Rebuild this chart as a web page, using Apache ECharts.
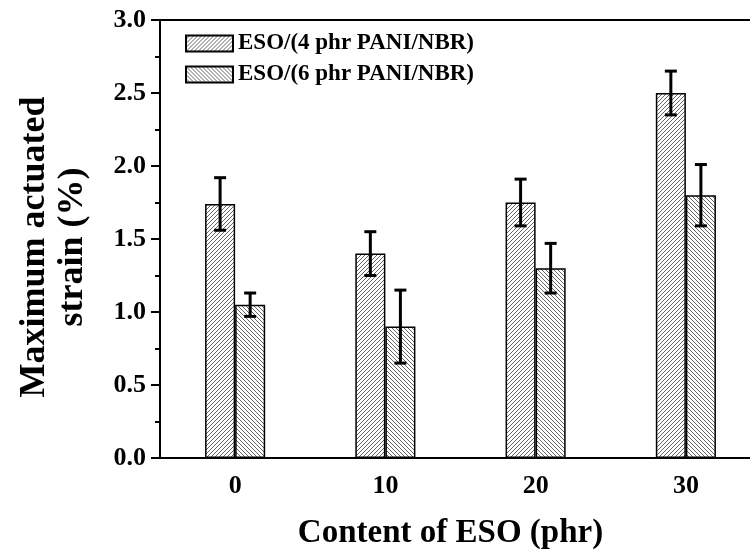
<!DOCTYPE html>
<html>
<head>
<meta charset="utf-8">
<script src="https://cdn.jsdelivr.net/npm/echarts@6/dist/echarts.min.js"></script>
<style>
  html, body { margin: 0; padding: 0; background: #fff; }
  #chart { width: 750px; height: 558px; }
</style>
</head>
<body>
<div id="chart"></div>
<script>
// ESO content (phr)
const categories = ["0", "10", "20", "30"];
const seriesNames = ["ESO/(4 phr PANI/NBR)", "ESO/(6 phr PANI/NBR)"];
// maximum actuated strain (%)
const strain4 = [1.74, 1.40, 1.75, 2.50];
const strain6 = [1.05, 0.90, 1.30, 1.80];
// error bar half widths
const err4 = [0.18, 0.15, 0.16, 0.15];
const err6 = [0.08, 0.25, 0.17, 0.21];
const yTicks = [0, 0.5, 1.0, 1.5, 2.0, 2.5, 3.0];

const FONT = "Liberation Serif";

// hatch pattern, dir 1 = "///", dir -1 = "\\\"
function hatch(dir) {
  const s = 4;
  const c = document.createElement("canvas");
  c.width = s; c.height = s;
  const ctx = c.getContext("2d");
  ctx.fillStyle = "#fff";
  ctx.fillRect(0, 0, s, s);
  ctx.strokeStyle = "#555";
  ctx.lineWidth = 0.9;
  ctx.beginPath();
  if (dir > 0) {
    ctx.moveTo(-1, s + 1); ctx.lineTo(s + 1, -1);
    ctx.moveTo(-1, 1); ctx.lineTo(1, -1);
    ctx.moveTo(s - 1, s + 1); ctx.lineTo(s + 1, s - 1);
  } else {
    ctx.moveTo(-1, -1); ctx.lineTo(s + 1, s + 1);
    ctx.moveTo(s - 1, -1); ctx.lineTo(s + 1, 1);
    ctx.moveTo(-1, s - 1); ctx.lineTo(1, s + 1);
  }
  ctx.stroke();
  return { image: c, repeat: "repeat" };
}

function errData(vals, errs) {
  return vals.map((v, i) => [i, v - errs[i], v + errs[i]]);
}

function errorBar(side) {
  return function (params, api) {
    const band = api.size([1, 0])[0];
    const x = api.coord([api.value(0), 0])[0] + side * band * 0.1;
    const lo = api.coord([api.value(0), api.value(1)])[1];
    const hi = api.coord([api.value(0), api.value(2)])[1];
    const cap = 6;
    const style = { stroke: "#000", lineWidth: 3 };
    return {
      type: "group",
      children: [
        { type: "line", shape: { x1: x, y1: hi, x2: x, y2: lo }, style: style },
        { type: "line", shape: { x1: x - cap, y1: hi, x2: x + cap, y2: hi }, style: style },
        { type: "line", shape: { x1: x - cap, y1: lo, x2: x + cap, y2: lo }, style: style }
      ]
    };
  };
}

const chart = echarts.init(document.getElementById("chart"));
const option = {
  backgroundColor: "#fff",
  animation: false,
  grid: {
    left: 160, top: 20, width: 601, height: 438,
    containLabel: false,
    outerBoundsMode: "none",
    show: true, borderColor: "#000", borderWidth: 2
  },
  legend: {
    data: seriesNames,
    orient: "vertical",
    left: 185, top: 32,
    padding: 0,
    icon: "rect",
    itemWidth: 47, itemHeight: 16, itemGap: 8,
    textStyle: { fontFamily: FONT, fontWeight: "bold", fontSize: 23, color: "#000" }
  },
  xAxis: [
    {
      type: "category",
      data: categories,
      position: "bottom",
      name: "Content of ESO (phr)",
      nameLocation: "middle",
      nameGap: 59,
      nameTextStyle: {
        fontFamily: FONT, fontWeight: "bold", fontSize: 33, color: "#000",
        padding: [0, 20, 0, 0]
      },
      axisLine: { lineStyle: { color: "#000", width: 2 } },
      axisTick: { alignWithLabel: true, length: 9, lineStyle: { color: "#000", width: 2 } },
      axisLabel: { fontFamily: FONT, fontWeight: "bold", fontSize: 26, color: "#000", margin: 15 },
      splitLine: { show: false }
    },
    {
      type: "category",
      data: categories,
      position: "bottom",
      axisLine: { show: false },
      axisTick: { length: 5, lineStyle: { color: "#000", width: 2 } },
      axisLabel: { show: false },
      splitLine: { show: false }
    }
  ],
  yAxis: {
    type: "value",
    min: yTicks[0], max: yTicks[yTicks.length - 1], interval: 0.5,
    name: "Maximum actuated\nstrain (%)",
    nameLocation: "middle",
    nameGap: 68,
    nameTextStyle: {
      fontFamily: FONT, fontWeight: "bold", fontSize: 36, color: "#000", lineHeight: 38,
      padding: [0, 16, 0, 0]
    },
    axisLine: { show: true, lineStyle: { color: "#000", width: 2 } },
    axisTick: { show: true, length: 9, lineStyle: { color: "#000", width: 2 } },
    minorTick: { show: true, splitNumber: 2, length: 5, lineStyle: { color: "#000", width: 2 } },
    axisLabel: {
      fontFamily: FONT, fontWeight: "bold", fontSize: 26, color: "#000", margin: 14,
      formatter: v => v.toFixed(1)
    },
    splitLine: { show: false }
  },
  series: [
    {
      name: seriesNames[0],
      type: "bar",
      data: strain4,
      barWidth: "20%",
      barGap: "0%",
      itemStyle: { color: hatch(1), borderColor: "#000", borderWidth: 1.5 }
    },
    {
      name: seriesNames[1],
      type: "bar",
      data: strain6,
      barWidth: "20%",
      barGap: "0%",
      itemStyle: { color: hatch(-1), borderColor: "#000", borderWidth: 1.5 }
    },
    {
      type: "custom",
      renderItem: errorBar(-1),
      data: errData(strain4, err4),
      encode: { x: 0, y: [1, 2] },
      z: 10
    },
    {
      type: "custom",
      renderItem: errorBar(1),
      data: errData(strain6, err6),
      encode: { x: 0, y: [1, 2] },
      z: 10
    }
  ]
};
chart.setOption(option);
</script>
</body>
</html>
